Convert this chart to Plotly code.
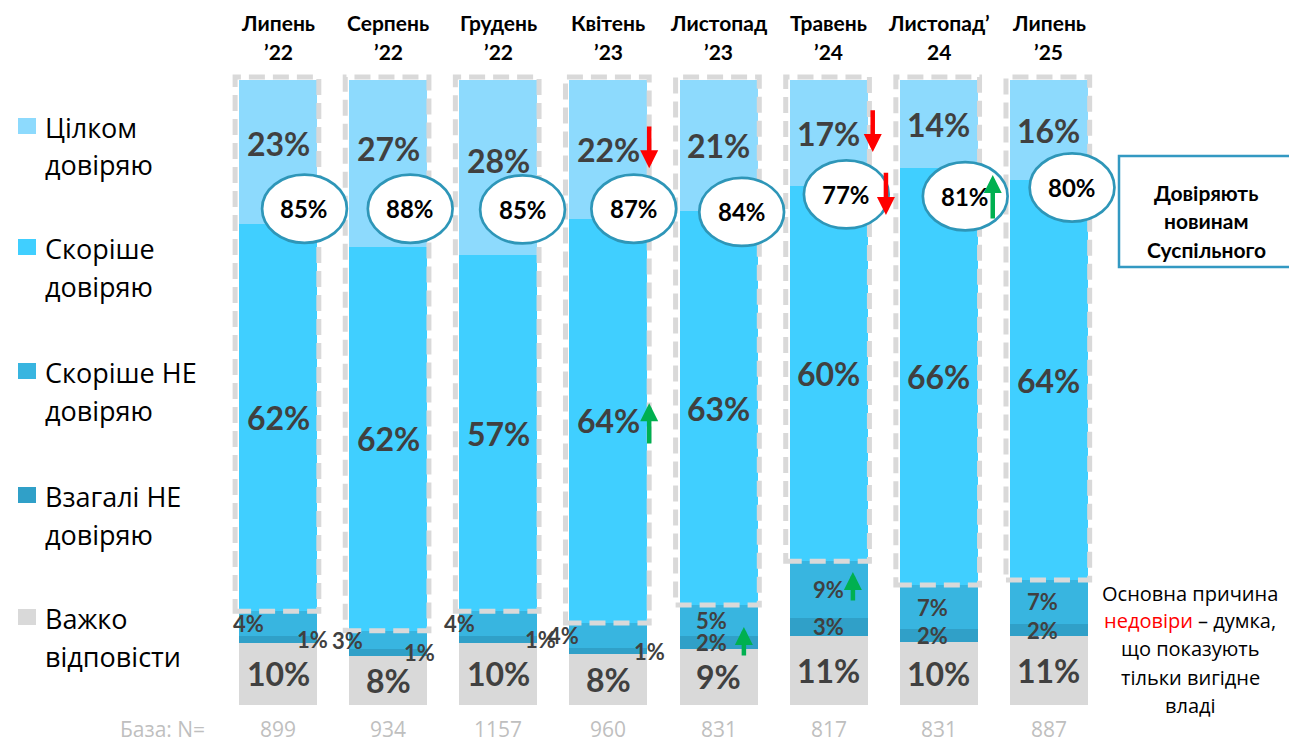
import plotly.graph_objects as go

# --- data -------------------------------------------------------------
months = ["Липень", "Серпень", "Грудень", "Квітень", "Листопад", "Травень", "Листопад’", "Липень"]
years = ["’22", "’22", "’22", "’23", "’23", "’24", "24", "’25"]

fully_trust = [23, 27, 28, 22, 21, 17, 14, 16]
rather_trust = [62, 62, 57, 64, 63, 60, 66, 64]
rather_not = [4, 3, 4, 4, 5, 9, 7, 7]
not_at_all = [1, 1, 1, 1, 2, 3, 2, 2]
hard_to_say = [10, 8, 10, 8, 9, 11, 10, 11]

trust_total = [85, 88, 85, 87, 84, 77, 81, 80]
base_n = [899, 934, 1157, 960, 831, 817, 831, 887]

# --- layout helpers ---------------------------------------------------
W, H = 1289, 746
LEFT, RIGHT, TOP, BOTTOM = 223, 163, 71, 41
X_RANGE = [-0.5, 7.7]
Y_RANGE = [0, 101.44]

NUM_FONT = "Lato, Carlito, Calibri, sans-serif"
TXT_FONT = "Open Sans, Segoe UI, sans-serif"
DARK = "#404040"
OVAL_LINE = "#2e96b8"
RED = "#ff0000"
GREEN = "#00b050"


def px_x(px):
    return (px - LEFT) / (W - LEFT - RIGHT)


def px_y(py):
    return (H - BOTTOM - py) / (H - TOP - BOTTOM)


def note(text, x, y, size, family=TXT_FONT, color="black", bold=False, xanchor="center", xref="paper"):
    return dict(
        x=x, y=y, xref=xref, yref="paper", text=text, showarrow=False,
        xanchor=xanchor, yanchor="middle",
        font=dict(family=family, size=size, color=color, weight="bold" if bold else "normal"),
    )


# series bottom -> top: (legend lines, values, colour, big label?)
series = [
    (("Важко", "відповісти"), hard_to_say, "#d9d9d9", True),
    (("Взагалі НЕ", "довіряю"), not_at_all, "#30a0c8", False),
    (("Скоріше НЕ", "довіряю"), rather_not, "#38b5e0", False),
    (("Скоріше", "довіряю"), rather_trust, "#40cfff", True),
    (("Цілком", "довіряю"), fully_trust, "#8ddafd", True),
]

X = list(range(len(months)))
totals = [sum(s[1][i] for s in series) for i in X]

# label nudges (x in category units, y in percent)
small_dx = {
    1: [0.31, 0.28, 0.38, 0.37, -0.06, 0.0, -0.06, -0.06],
    2: [-0.27, -0.37, -0.35, -0.41, -0.06, 0.0, -0.06, -0.06],
}
top_dy = [1.4, 2.4, 1.1, 0, 0, 0, 0, 0]
oval_dx = [0.24, 0.20, 0.22, 0.23, 0.21, 0.16, 0.24, 0.21]
oval_y = [79.4, 79.4, 79.3, 79.4, 78.9, 81.7, 81.4, 82.8]
arrows = [  # bar, dx, y tail, y tip, colour
    (3, 0.37, 92.8, 85.9, RED),
    (5, 0.40, 95.4, 88.5, RED),
    (5, 0.52, 85.4, 78.4, RED),
    (6, 0.49, 77.6, 84.8, GREEN),
    (3, 0.37, 41.6, 48.3, GREEN),
    (4, 0.23, 7.7, 12.5, GREEN),
    (5, 0.22, 16.5, 21.3, GREEN),
]

fig = go.Figure()
for names, vals, col, _ in series:
    fig.add_trace(go.Bar(
        x=X, y=vals, name=" ".join(names),
        marker=dict(color=col, line=dict(width=0)),
        showlegend=False, hoverinfo="name+y",
    ))

annotations = []
shapes = []

# segment labels
bottoms = [0.0] * len(X)
for k, (names, vals, col, big) in enumerate(series):
    for i in X:
        share = vals[i] / totals[i] * 100
        y = bottoms[i] + share / 2
        dx = 0
        if k in small_dx:
            dx = small_dx[k][i]
        if k == 4:
            y += top_dy[i]
        annotations.append(dict(
            x=i + dx, y=y, xref="x", yref="y", text=f"{vals[i]}%",
            showarrow=False,
            font=dict(family=NUM_FONT, size=32 if big else 22, color=DARK, weight="bold"),
        ))
        bottoms[i] += share
    if k == 2:
        trust_bottom = list(bottoms)

# dashed frames round the trust part
for i in X:
    shapes.append(dict(
        type="rect", xref="x", yref="y",
        x0=i - 0.39, x1=i + 0.37, y0=trust_bottom[i], y1=100.5,
        line=dict(color="#d9d9d9", width=5, dash="16px,8px"),
        fillcolor="rgba(0,0,0,0)", layer="above",
    ))

# ovals with total trust
for i in X:
    cx, cy = i + oval_dx[i], oval_y[i]
    shapes.append(dict(
        type="circle", xref="x", yref="y",
        x0=cx - 0.385, x1=cx + 0.385, y0=cy - 5.45, y1=cy + 5.45,
        line=dict(color=OVAL_LINE, width=2.7), fillcolor="white", layer="above",
    ))
    annotations.append(dict(
        x=cx, y=cy, xref="x", yref="y", text=f"{trust_total[i]}%", showarrow=False,
        font=dict(family=NUM_FONT, size=24, color="black", weight="bold"),
    ))

# change arrows
for b, dx, y0, y1, col in arrows:
    annotations.append(dict(
        x=b + dx, y=y1, ax=b + dx, ay=y0, xref="x", yref="y", axref="x", ayref="y",
        text="", showarrow=True, arrowhead=2, arrowsize=0.8, arrowwidth=4.5,
        arrowcolor=col, standoff=0, startstandoff=0,
    ))

# period labels on top
for i in X:
    annotations.append(note(months[i], i, px_y(22), 21, NUM_FONT, bold=True, xref="x"))
    annotations.append(note(years[i], i, px_y(52), 21, NUM_FONT, bold=True, xref="x"))

# base row
annotations.append(note("База: N=", px_x(162), px_y(729), 21, color="#bfbfbf"))
for i in X:
    annotations.append(note(str(base_n[i]), i, px_y(729), 21, color="#bfbfbf", xref="x"))

# legend drawn by hand (top item first)
legend_y = [127, 248, 372, 496, 618]
for (names, vals, col, _), ly in zip(reversed(series), legend_y):
    shapes.append(dict(
        type="rect", xref="paper", yref="paper",
        x0=px_x(18), x1=px_x(36), y0=px_y(ly + 7), y1=px_y(ly - 9),
        line=dict(width=0), fillcolor=col,
    ))
    for j, line in enumerate(names):
        annotations.append(note(line, px_x(43), px_y(ly + 38 * j), 27, xanchor="left"))

# right-hand box
shapes.append(dict(
    type="rect", xref="paper", yref="paper",
    x0=px_x(1119), x1=px_x(1300), y0=px_y(267), y1=px_y(156),
    line=dict(color="#3399c2", width=2.5), fillcolor="white",
))
for text, py in zip(["Довіряють", "новинам", "Суспільного"], [192, 220, 249]):
    annotations.append(note(text, px_x(1206), px_y(py), 21, NUM_FONT, bold=True))

reason = [
    "Основна причина",
    "<span style='color:#ff0000'>недовіри</span> – думка,",
    "що показують",
    "тільки вигідне",
    "владі",
]
for text, py in zip(reason, [593, 620, 648, 677, 705]):
    annotations.append(note(text, px_x(1190), px_y(py), 20))

fig.update_layout(
    width=W, height=H,
    margin=dict(l=LEFT, r=RIGHT, t=TOP, b=BOTTOM),
    barmode="stack", barnorm="percent", bargap=0.292,
    plot_bgcolor="white", paper_bgcolor="white",
    xaxis=dict(range=X_RANGE, visible=False, fixedrange=True),
    yaxis=dict(range=Y_RANGE, visible=False, fixedrange=True),
    shapes=shapes, annotations=annotations,
    showlegend=False,
)

fig.write_html(
    "out.html",
    config={"displayModeBar": False},
    post_script="document.body.style.margin='0';",
)
